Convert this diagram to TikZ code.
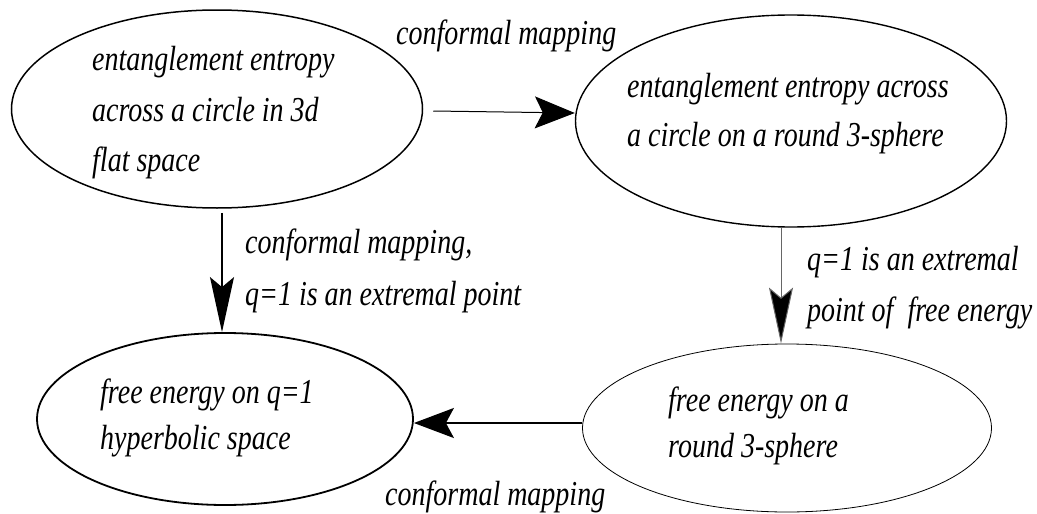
\documentclass[tikz,border=0pt]{standalone}
\usepackage{fontspec}
\setmainfont{Liberation Serif}[ItalicFont={Liberation Serif Italic},FakeStretch=0.8]
\usetikzlibrary{arrows.meta,shapes.geometric}
\begin{document}
\begin{tikzpicture}[x=1pt,y=-1pt,
  bubble/.style={ellipse,draw=black,inner sep=0pt},
  txt/.style={anchor=base west,inner sep=0pt,font=\fontsize{35}{40}\selectfont\itshape}]
\useasboundingbox (0,0) rectangle (1037,514);
\node[bubble,line width=1.5pt,minimum width=411pt,minimum height=198pt] (A) at (217,109) {};
\node[bubble,line width=1.4pt,minimum width=431pt,minimum height=212pt] (B) at (791,121) {};
\node[bubble,line width=0.8pt,minimum width=409pt,minimum height=168pt] (C) at (787,428) {};
\node[bubble,line width=1.8pt,minimum width=376pt,minimum height=172pt] (D) at (225,419) {};
% texts
\node[txt] (a1) at (92,70) {entanglement entropy};
\node[txt] (a2) at (92,121) {across a circle in 3d};
\node[txt] (a3) at (92,171) {flat space};
\node[txt] (b1) at (627,97) {entanglement entropy across};
\node[txt] (b2) at (627,146) {a circle on a round 3-sphere};
\node[txt] (c1) at (668,411) {free energy on a};
\node[txt] (c2) at (668,457) {round 3-sphere};
\node[txt] (d1) at (100,403) {free energy on q=1};
\node[txt] (d2) at (100,449) {hyperbolic space};
\node[txt] (l1) at (396,45) {conformal mapping};
\node[txt] (l2) at (245,253) {conformal mapping,};
\node[txt] (l3) at (245,305) {q=1 is an extremal point};
\node[txt] (l4) at (807,270) {q=1 is an extremal};
\node[txt] (l5) at (807,321) {point of \ free energy};
\node[txt] (l6) at (385,505) {conformal mapping};
% connectors
\draw[line width=1pt,-{Stealth[length=40pt,width=32pt,inset=8pt]}]
  ([xshift=10pt,yshift=-2pt]A.east) -- ([yshift=8pt]B.west);
\draw[line width=1.5pt,-{Stealth[length=55pt,width=24pt,inset=10pt]}]
  ([xshift=5pt,yshift=-4pt]A.south) -- ([xshift=-3pt]D.north);
\draw[line width=1pt,draw=black!60,-{Stealth[length=56pt,width=24pt,inset=10pt,fill=black]}]
  ([xshift=-10pt]B.south) -- ([xshift=-6pt]C.north);
\draw[line width=2pt,-{Stealth[length=40pt,width=30pt,inset=8pt]}]
  ([yshift=5pt]C.west) -- ([yshift=-4pt]D.east);
\end{tikzpicture}
\end{document}
